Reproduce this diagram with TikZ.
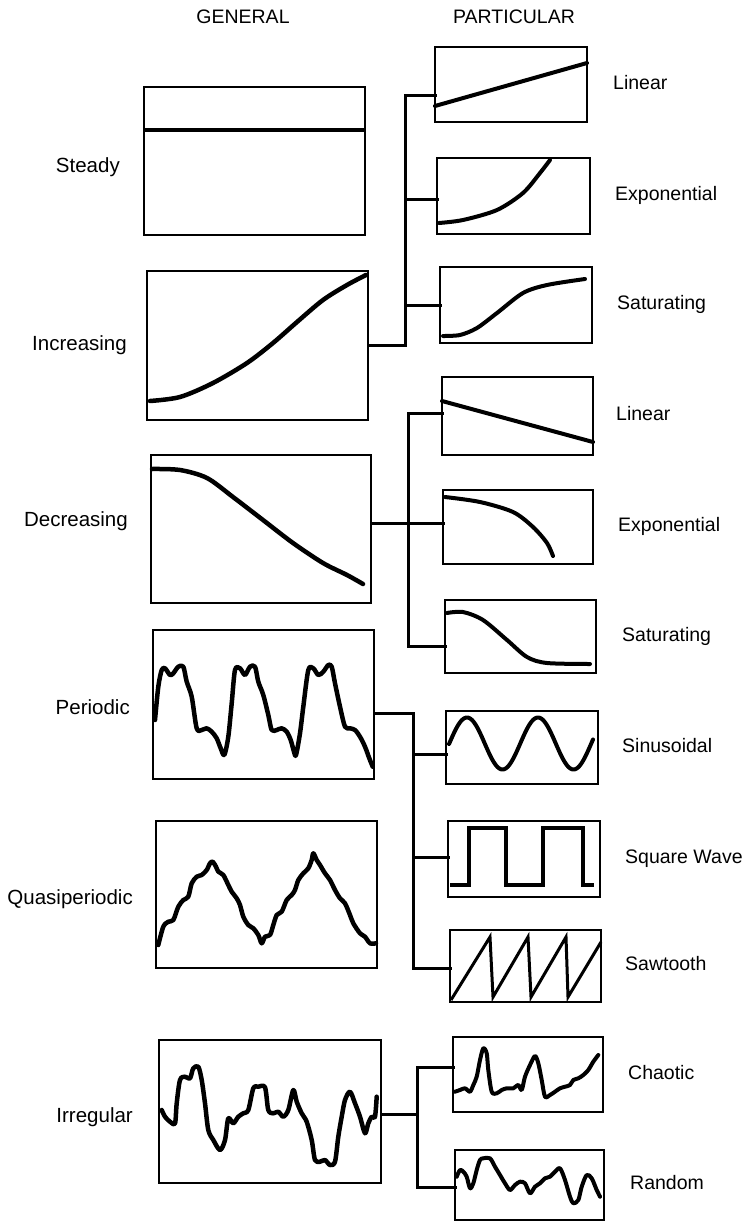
\documentclass[tikz,border=0pt]{standalone}
\usepackage{fontspec}
\setmainfont{Liberation Sans}
\usetikzlibrary{calc}
\tikzset{
  gbox/.style={draw, line width=2pt, inner sep=0pt, outer sep=0pt, anchor=north west},
  conn/.style={line width=3pt, line cap=rect},
  wave/.style={line width=4.5pt, line join=round, line cap=round},
  pwave/.style={line width=4pt, line join=round, line cap=round},
  llbl/.style={font=\fontsize{20.5}{24}\selectfont, inner sep=0pt, anchor=mid east},
  rlbl/.style={font=\fontsize{19.5}{24}\selectfont, inner sep=0pt, anchor=mid west},
  hlbl/.style={font=\fontsize{19.5}{24}\selectfont, inner sep=0pt, anchor=mid},
}
\begin{document}
\begin{tikzpicture}[x=1pt, y=-1pt]
\useasboundingbox (0,0) rectangle (747,1225);
% headers
\node[hlbl] (hg) at (243,21) {GENERAL};
\node[hlbl] (hp) at (514,21) {PARTICULAR};
% general boxes
\node[gbox, minimum width=221pt, minimum height=148pt] (g1) at (144,87) {};
\node[gbox, minimum width=221pt, minimum height=149pt] (g2) at (147,271) {};
\node[gbox, minimum width=220pt, minimum height=148pt] (g3) at (151,455) {};
\node[gbox, minimum width=221pt, minimum height=149pt] (g4) at (153,630) {};
\node[gbox, minimum width=221pt, minimum height=147pt] (g5) at (156,821) {};
\node[gbox, minimum width=222pt, minimum height=143pt] (g6) at (159,1040) {};
% particular boxes
\node[gbox, minimum width=152pt, minimum height=75pt] (p1) at (435,47) {};
\node[gbox, minimum width=153pt, minimum height=76pt] (p2) at (437,158) {};
\node[gbox, minimum width=152pt, minimum height=76pt] (p3) at (440,267) {};
\node[gbox, minimum width=151pt, minimum height=78pt] (p4) at (442,377) {};
\node[gbox, minimum width=150pt, minimum height=74pt] (p5) at (443,490) {};
\node[gbox, minimum width=151pt, minimum height=73pt] (p6) at (445,600) {};
\node[gbox, minimum width=152pt, minimum height=73pt] (p7) at (446,711) {};
\node[gbox, minimum width=152pt, minimum height=76pt] (p8) at (448,821) {};
\node[gbox, minimum width=151pt, minimum height=72pt] (p9) at (450,930) {};
\node[gbox, minimum width=150pt, minimum height=75pt] (p10) at (453,1037) {};
\node[gbox, minimum width=149pt, minimum height=70pt] (p11) at (455,1150) {};
% labels (general)
\node[llbl] (lg1) at (120,170) {Steady};
\node[llbl] (lg2) at (127,348) {Increasing};
\node[llbl] (lg3) at (128,524) {Decreasing};
\node[llbl] (lg4) at (130,712) {Periodic};
\node[llbl] (lg5) at (133,902) {Quasiperiodic};
\node[llbl] (lg6) at (133,1120) {Irregular};
% labels (particular)
\node[rlbl] (lp1) at ($(p1.east)+(26,2)$) {Linear};
\node[rlbl] (lp2) at ($(p2.east)+(25,2)$) {Exponential};
\node[rlbl] (lp3) at ($(p3.east)+(25,2)$) {Saturating};
\node[rlbl] (lp4) at ($(p4.east)+(23,2)$) {Linear};
\node[rlbl] (lp5) at ($(p5.east)+(25,2)$) {Exponential};
\node[rlbl] (lp6) at ($(p6.east)+(26,2)$) {Saturating};
\node[rlbl] (lp7) at ($(p7.east)+(24,2)$) {Sinusoidal};
\node[rlbl] (lp8) at ($(p8.east)+(25,2)$) {Square Wave};
\node[rlbl] (lp9) at ($(p9.east)+(24,2)$) {Sawtooth};
\node[rlbl] (lp10) at ($(p10.east)+(25,2)$) {Chaotic};
\node[rlbl] (lp11) at ($(p11.east)+(26,2)$) {Random};
% connectors
\coordinate (j1) at (405,0);
\coordinate (j2) at (408,0);
\coordinate (j3) at (413,0);
\coordinate (j4) at (417,0);
\coordinate (b1) at ($(p1.north west)!0.65!(p1.south west)$);
\coordinate (b2) at ($(p2.north west)!0.54!(p2.south west)$);
\coordinate (b3) at ($(p3.north west)!0.51!(p3.south west)$);
\coordinate (b4) at ($(p4.north west)!0.47!(p4.south west)$);
\coordinate (b6) at ($(p6.north west)!0.64!(p6.south west)$);
\coordinate (b7) at ($(p7.north west)!0.60!(p7.south west)$);
\coordinate (b8) at ($(p8.north west)!0.48!(p8.south west)$);
\coordinate (b9) at ($(p9.north west)!0.53!(p9.south west)$);
\coordinate (b10) at ($(p10.north west)!0.40!(p10.south west)$);
\coordinate (b11) at ($(p11.north west)!0.54!(p11.south west)$);
\coordinate (a3) at ($(g3.north east)!0.46!(g3.south east)$);
\coordinate (a4) at ($(g4.north east)!0.56!(g4.south east)$);
\coordinate (a6) at ($(g6.north east)!0.52!(g6.south east)$);
\draw[conn] (g2.east) -- (j1 |- g2.east) -- (j1 |- b1) -- (b1);
\draw[conn] (j1 |- b2) -- (b2);
\draw[conn] (j1 |- b3) -- (b3);
\draw[conn] (a3) -- (a3 -| p5.west);
\draw[conn] (b4) -- (j2 |- b4) -- (j2 |- b6) -- (b6);
\draw[conn] (a4) -- (j3 |- a4) -- (j3 |- b9) -- (b9);
\draw[conn] (j3 |- b7) -- (b7);
\draw[conn] (j3 |- b8) -- (b8);
\draw[conn] (a6) -- (j4 |- a6);
\draw[conn] (b10) -- (j4 |- b10) -- (j4 |- b11) -- (b11);
% steady
\draw[line width=4pt] (g1.west |- 0,130) -- (g1.east |- 0,130);
% increasing
\draw[wave] plot[smooth] coordinates {(150,401) (180,397) (213,383) (247,363) (273,343) (297,322) (323,300) (347,285) (366,275)};
% decreasing
\draw[wave] plot[smooth] coordinates {(152,469) (180,470) (207,478) (233,497) (263,520) (293,543) (323,563) (347,575) (363,584)};
% periodic
\draw[wave] plot[smooth, tension=0.5] coordinates {(155,720) (158.3,686.7) (161.7,670) (165,668.3) (170,675) (173.3,673.3) (178.3,666.7) (183.3,666.7) (186.7,681.7) (191.7,696.7) (196.7,728.3) (201.7,730) (206.7,728.3) (211.7,731.7) (216.7,738.3) (220.7,748.3) (224.3,755) (228.3,736.7) (231.7,703.3) (235,670) (240,668.3) (245,675) (250,666.7) (255,666.7) (258.3,681.7) (263.3,695) (268.3,715) (271.7,730) (276.7,730) (281.7,728.3) (286.7,731.7) (290.7,740) (294,751.7) (296,755) (300,733.3) (303.3,706.7) (308.3,670) (313.3,668.3) (318.3,675) (323.3,671.7) (328.3,665) (331.7,666.7) (335,683.3) (340,706.7) (345,726.7) (350,728.3) (355,730) (360,736.7) (365,746.7) (369.3,758.3) (372.7,766.7)};
% quasiperiodic
\draw[wave] plot[smooth, tension=0.5] coordinates {(158.3,945) (163.3,926.7) (168.3,921.7) (173.3,920) (178.3,906.7) (183.3,900) (188.3,896.7) (191.7,883.3) (196.7,876.7) (201.7,875) (206.7,870) (210,863.3) (212.7,861.7) (216,866.7) (218.3,871.7) (223.3,875) (228.3,885) (231.7,891.7) (236.7,898.3) (240,905) (243.3,916.7) (248.3,925) (253.3,928.3) (258.3,935) (261.7,943.3) (265,936.7) (270,935) (273.3,925) (276.7,915) (281.7,911.7) (286.7,900) (291.7,895) (295,890) (298.3,880) (303.3,873.3) (308.3,868.3) (311.7,860) (313.3,853.3) (316.7,860) (320,865) (325,873.3) (330,880) (335,890) (340,898.3) (345,903.3) (350,915) (353.3,923.3) (360,933.3) (365,936.7) (370,943.3) (376,943.3)};
% irregular
\draw[wave] plot[smooth, tension=0.5] coordinates {(161.7,1110) (165,1116.7) (170,1121.7) (175,1123.3) (176.7,1103.3) (180,1080) (185,1076.7) (190,1078.3) (193.3,1068.3) (198.3,1066.7) (201.7,1080) (205,1103.3) (208.3,1130) (213.3,1140) (220,1150) (225,1140) (228.3,1118.3) (233.3,1123.3) (238.3,1116.7) (243.3,1113.3) (248.3,1110) (253.3,1088.3) (258.3,1086.7) (265,1087.3) (268.3,1110) (273.3,1113.3) (278.3,1111.7) (283.3,1116.7) (288.3,1110) (293.3,1090) (296.7,1101.7) (301.7,1113.3) (306.7,1121.7) (311.7,1140) (315,1160) (320,1161.7) (325,1160) (330,1165) (335,1161.7) (338.3,1136.7) (341.7,1116.7) (345,1100) (350,1091.7) (355,1103.3) (360,1116.7) (365,1133.3) (368.3,1123.3) (371.7,1116.7) (375,1116.7) (376.7,1096.7)};
% p1 linear
\draw[pwave] (p1.west |- 0,106) -- (p1.east |- 0,63);
% p2 exponential
\draw[pwave] plot[smooth] coordinates {(439,223) (463,220) (497,210) (523,193) (540,173) (550,160)};
% p3 saturating
\draw[pwave] plot[smooth] coordinates {(443,336) (460,335) (477,328) (497,313) (523,293) (547,285) (585,279)};
% p4 linear
\draw[pwave] (p4.west |- 0,401) -- (p4.east |- 0,442);
% p5 exponential decreasing
\draw[pwave] plot[smooth] coordinates {(445,497) (480,502) (513,512) (533,527) (547,543) (553,556)};
% p6 saturating decreasing
\draw[pwave] plot[smooth] coordinates {(447,613) (463,612) (483,620) (507,640) (527,657) (547,663) (590,664)};
% p7 sinusoid
\draw[pwave] plot[domain=449:593, samples=120] (\x, {743.5-26*cos(5.0704*(\x-467))});
% p8 square wave
\draw[pwave, line cap=butt, line join=miter] (450,885) -- (469,885) -- (469,828) -- (506,828) -- (506,885) -- (543,885) -- (543,828) -- (583,828) -- (583,885) -- (594,885);
% p9 sawtooth
\draw[line width=3pt, line join=miter] (451,1000) -- (490,937) -- (493,997) -- (528,937) -- (531,997) -- (566,937) -- (568,997) -- (601,942);
% p10 chaotic
\draw[pwave] plot[smooth, tension=0.5] coordinates {(455,1091.7) (460,1090) (465,1088.3) (470,1091.7) (473.3,1085) (476.7,1076.7) (480,1060) (483.3,1048.3) (486.7,1053.3) (488.3,1070) (491.7,1091.7) (496.7,1093.3) (501.7,1090) (506.7,1088.3) (513.3,1088.3) (518.3,1085) (521.7,1090) (525,1076.7) (530,1065) (535,1056) (538.3,1063.3) (541.7,1080) (545,1096.7) (550,1095) (555,1091.7) (560,1088.3) (565,1086.7) (570,1085) (573.3,1080) (578.3,1078.3) (583.3,1075) (588.3,1070) (593.3,1061.7) (598.3,1055)};
% p11 random
\draw[pwave] plot[smooth, tension=0.5] coordinates {(456.7,1176.7) (460,1170) (463.3,1171.7) (466.7,1176.7) (470,1188.3) (473.3,1183.3) (476.7,1170) (480,1160) (483.3,1158.3) (490,1158.3) (495,1166.7) (500,1175) (505,1183.3) (510,1190) (515,1185) (520,1181.7) (525,1183.3) (530,1193.3) (535,1186.7) (540,1183.3) (545,1178.3) (550,1176.7) (555,1171.7) (560,1168.3) (565,1180) (570,1196.7) (573.3,1203.3) (578.3,1200) (581.7,1186.7) (586.7,1175) (591.7,1178.3) (596.7,1190) (600,1196.7)};
\end{tikzpicture}
\end{document}
